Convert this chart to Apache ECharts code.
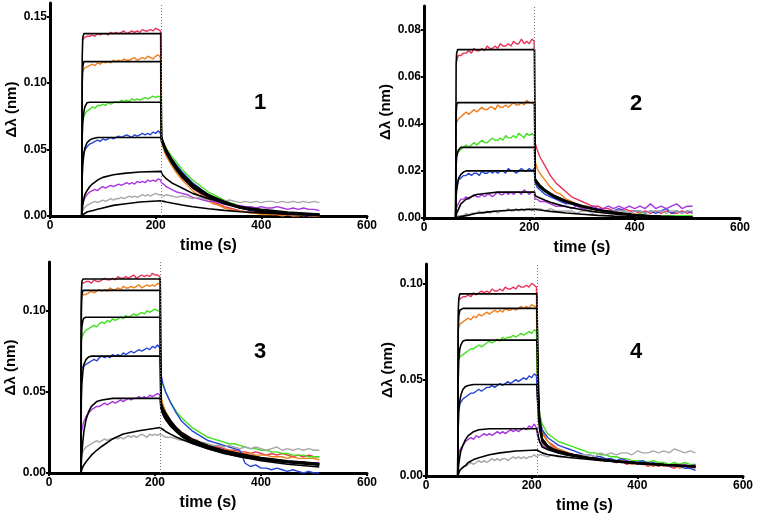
<!DOCTYPE html>
<html><head><meta charset="utf-8">
<script src="https://cdn.jsdelivr.net/npm/echarts@6/dist/echarts.min.js"></script>
<style>html,body{margin:0;padding:0;background:#fff}#c{width:757px;height:518px}</style>
</head><body><div id="c"></div>
<script>
// time samples (s)
const tAssoc=[61,65,70,75,80,85,90,95,100,105,110,115,120,125,130,135,140,145,150,155,160,165,170,175,180,185,190,195,200,205,209];
const tDiss=[211,215,220,230,240,250,260,270,280,290,300,310,320,330,340,350,360,370,380,390,400,410,420,430,440,450,460,470,480,490,500,510];
const tFit=[60,61,62,64,66,70,75,80,90,100,120,140,170,210,211,213,215,220,230,240,250,270,300,330,360,400,450,510];
const switchTime=210;
const panelLabels=['1','2','3','4'];
const xTicks=[0,200,400,600];
const yTicks1=[0,0.05,0.10,0.15], yTicks2=[0,0.02,0.04,0.06,0.08], yTicks3=[0,0.05,0.10], yTicks4=[0,0.05,0.10];
const yMax=[0.16,0.09,0.13,0.11];

// ---- panel 1 measured (assoc 31 + diss 32)
const p1Red=[.132,.134,.135,.135,.136,.135,.137,.136,.137,.137,.136,.138,.137,.138,.137,.138,.139,.137,.138,.139,.138,.139,.138,.140,.139,.139,.140,.139,.141,.140,.139,
.058,.052,.047,.041,.035,.030,.025,.021,.018,.015,.013,.010,.009,.007,.006,.005,.004,.003,.003,.002,.002,.002,.001,.001,.001,.001,.000,.001,.000,.001,.000,.001];
const p1Orange=[.108,.111,.112,.113,.114,.113,.115,.114,.116,.115,.116,.115,.117,.116,.117,.116,.118,.117,.117,.118,.119,.117,.118,.119,.118,.120,.119,.118,.120,.121,.119,
.056,.050,.045,.038,.032,.027,.023,.019,.016,.014,.011,.009,.008,.006,.005,.004,.004,.003,.002,.002,.001,.001,.001,.001,.000,.001,.000,.000,.001,.000,.000,.000];
const p1Green=[.071,.076,.079,.080,.082,.081,.083,.083,.084,.083,.085,.084,.085,.086,.085,.087,.086,.087,.086,.088,.087,.088,.087,.088,.089,.088,.089,.090,.089,.090,.089,
.060,.055,.051,.045,.040,.035,.031,.027,.024,.021,.018,.016,.014,.012,.010,.009,.007,.006,.005,.004,.004,.003,.003,.002,.002,.002,.001,.001,.001,.001,.001,.001];
const p1Blue=[.044,.049,.052,.054,.055,.056,.057,.056,.058,.057,.058,.059,.058,.059,.060,.059,.060,.061,.060,.059,.061,.060,.061,.062,.061,.062,.061,.063,.062,.064,.062,
.062,.054,.049,.043,.038,.033,.029,.025,.022,.019,.016,.014,.012,.010,.009,.007,.006,.005,.004,.004,.003,.003,.002,.002,.002,.001,.001,.001,.001,.000,.001,.000];
const p1Purple=[.008,.013,.016,.018,.019,.020,.019,.021,.022,.021,.022,.023,.022,.023,.024,.023,.024,.025,.024,.025,.024,.026,.025,.026,.025,.027,.026,.027,.026,.028,.027,
.025,.024,.022,.020,.018,.017,.016,.014,.013,.012,.011,.011,.010,.009,.009,.008,.008,.007,.007,.006,.007,.006,.006,.007,.006,.005,.006,.005,.006,.005,.005,.004];
const p1Gray=[.003,.006,.008,.009,.010,.011,.010,.011,.012,.011,.012,.013,.012,.013,.013,.014,.013,.014,.015,.014,.015,.014,.015,.016,.015,.016,.015,.016,.017,.016,.016,
.016,.015,.016,.015,.014,.015,.014,.013,.014,.013,.012,.013,.012,.011,.012,.011,.010,.011,.010,.011,.010,.011,.011,.010,.011,.010,.011,.010,.011,.010,.011,.010];
// panel 1 fits (28)
const p1Fit1=[0,.120,.134,.137,.137,.137,.137,.137,.137,.137,.137,.137,.137,.137,.060,.057,.055,.050,.043,.037,.032,.024,.016,.011,.007,.004,.002,.001];
const p1Fit2=[0,.100,.112,.116,.116,.116,.116,.116,.116,.116,.116,.116,.116,.116,.059,.056,.054,.049,.042,.036,.031,.023,.016,.010,.007,.004,.002,.001];
const p1Fit3=[0,.060,.070,.078,.082,.085,.0855,.0855,.0855,.0855,.0855,.0855,.0855,.0855,.058,.055,.053,.048,.041,.035,.030,.022,.015,.010,.006,.003,.002,.001];
const p1Fit4=[0,.030,.038,.046,.051,.055,.057,.058,.059,.059,.059,.059,.059,.059,.056,.054,.052,.047,.040,.034,.029,.021,.014,.009,.006,.003,.0015,.0005];
const p1Fit5=[0,.004,.008,.013,.016,.019,.022,.024,.027,.029,.031,.032,.033,.0335,.032,.031,.030,.028,.025,.023,.021,.017,.013,.010,.007,.005,.003,.0015];
const p1Fit6=[0,.0005,.001,.0015,.002,.003,.0035,.004,.005,.006,.008,.009,.0105,.0115,.0113,.0112,.011,.0105,.0097,.009,.0083,.007,.0055,.0042,.0032,.0022,.0013,.0007];

// ---- panel 2
const p2Red=[.066,.069,.069,.070,.070,.071,.070,.072,.071,.071,.072,.071,.073,.072,.072,.073,.072,.074,.073,.073,.074,.073,.075,.074,.074,.076,.074,.075,.074,.076,.075,
.032,.029,.026,.022,.018,.015,.013,.011,.009,.008,.007,.006,.005,.005,.004,.004,.003,.003,.004,.003,.003,.002,.003,.002,.003,.002,.003,.002,.002,.003,.002,.003];
const p2Orange=[.040,.042,.043,.044,.045,.044,.045,.046,.045,.046,.047,.046,.046,.047,.047,.046,.048,.047,.047,.048,.047,.048,.049,.048,.048,.049,.048,.050,.049,.049,.048,
.024,.021,.019,.016,.013,.011,.010,.008,.007,.006,.005,.005,.004,.003,.003,.003,.002,.002,.002,.001,.002,.001,.001,.001,.001,.001,.001,.001,.001,.001,.001,.001];
const p2Green=[.026,.028,.029,.030,.031,.030,.031,.032,.031,.032,.033,.032,.032,.033,.034,.033,.033,.034,.033,.035,.034,.034,.035,.034,.036,.035,.034,.036,.035,.036,.035,
.016,.014,.013,.011,.010,.009,.008,.007,.006,.005,.005,.004,.004,.003,.003,.003,.002,.002,.002,.002,.001,.002,.001,.001,.001,.001,.001,.001,.001,.001,.001,.001];
const p2Blue=[.011,.016,.017,.018,.018,.019,.018,.019,.019,.018,.020,.019,.019,.020,.019,.020,.019,.020,.020,.019,.021,.020,.020,.019,.020,.021,.020,.020,.021,.020,.021,
.015,.013,.012,.010,.009,.008,.007,.006,.006,.005,.005,.004,.004,.004,.003,.003,.003,.004,.003,.002,.003,.003,.002,.003,.002,.003,.004,.002,.003,.002,.003,.002];
const p2Purple=[.004,.006,.008,.008,.009,.008,.009,.010,.009,.009,.010,.009,.010,.010,.009,.010,.011,.010,.010,.011,.010,.011,.010,.011,.011,.010,.012,.011,.010,.011,.011,
.008,.008,.007,.007,.006,.005,.005,.005,.004,.005,.004,.004,.005,.004,.004,.005,.004,.005,.004,.005,.004,.005,.004,.006,.004,.005,.004,.005,.006,.004,.005,.005];
const p2Gray=[.000,.001,.001,.001,.002,.001,.002,.002,.002,.003,.002,.002,.003,.002,.003,.003,.002,.003,.003,.003,.004,.003,.003,.004,.003,.004,.003,.004,.004,.003,.004,
.004,.004,.004,.003,.004,.003,.003,.003,.003,.002,.003,.003,.002,.003,.003,.002,.003,.003,.003,.002,.003,.003,.002,.003,.003,.003,.002,.003,.003,.002,.003,.003];
const p2Fit1=[0,.065,.070,.0715,.0715,.0715,.0715,.0715,.0715,.0715,.0715,.0715,.0715,.0715,.017,.016,.0155,.014,.012,.0105,.0093,.0073,.0053,.0036,.0025,.0014,.0007,.0003];
const p2Fit2=[0,.044,.048,.049,.049,.049,.049,.049,.049,.049,.049,.049,.049,.049,.0165,.0158,.0152,.0138,.0118,.0103,.0091,.0071,.0051,.0035,.0024,.0013,.0007,.0003];
const p2Fit3=[0,.022,.026,.028,.029,.030,.030,.030,.030,.030,.030,.030,.030,.030,.016,.0154,.0148,.0135,.0115,.010,.0088,.0069,.0049,.0034,.0023,.0013,.0006,.0003];
const p2Fit4=[0,.009,.012,.015,.017,.0185,.0195,.020,.020,.020,.020,.020,.020,.020,.0155,.0149,.0143,.013,.0112,.0097,.0085,.0067,.0047,.0033,.0022,.0012,.0006,.0002];
const p2Fit5=[0,.001,.002,.003,.004,.006,.007,.008,.009,.010,.0105,.011,.011,.011,.0095,.0092,.009,.0085,.0075,.0067,.006,.0048,.0035,.0025,.0017,.001,.0005,.0002];
const p2Fit6=[0,0,.0002,.0003,.0004,.0006,.0008,.001,.0015,.002,.0025,.003,.0034,.0037,.0036,.0036,.0035,.0034,.0031,.0028,.0026,.0021,.0016,.0011,.0008,.0005,.0003,.0001];

// ---- panel 3
const p3Red=[.117,.117,.118,.118,.117,.119,.118,.118,.119,.120,.119,.119,.120,.119,.121,.120,.120,.121,.120,.121,.122,.120,.121,.122,.121,.122,.121,.123,.122,.122,.121,
.046,.041,.037,.032,.028,.025,.023,.021,.020,.018,.017,.016,.016,.015,.014,.014,.013,.013,.012,.013,.012,.011,.012,.011,.012,.011,.010,.011,.010,.011,.010,.010];
const p3Orange=[.108,.110,.110,.111,.112,.111,.112,.113,.112,.113,.112,.114,.113,.113,.114,.113,.115,.114,.114,.115,.114,.115,.116,.114,.115,.116,.115,.116,.115,.117,.116,
.048,.042,.038,.032,.028,.025,.023,.021,.019,.018,.017,.016,.015,.014,.014,.013,.013,.012,.012,.011,.011,.011,.010,.010,.010,.009,.010,.009,.009,.009,.009,.008];
const p3Green=[.083,.086,.088,.089,.090,.091,.090,.092,.093,.092,.094,.093,.095,.094,.095,.096,.095,.097,.096,.097,.098,.097,.098,.099,.098,.100,.099,.100,.101,.100,.100,
.058,.054,.050,.043,.038,.034,.031,.028,.026,.024,.022,.021,.020,.019,.018,.018,.017,.016,.015,.015,.014,.014,.013,.013,.012,.012,.011,.011,.011,.010,.010,.010];
const p3Blue=[.064,.066,.067,.068,.069,.070,.069,.071,.072,.071,.072,.071,.073,.072,.073,.072,.074,.073,.074,.075,.074,.075,.076,.075,.076,.077,.076,.078,.077,.079,.077,
.061,.055,.050,.043,.037,.032,.029,.026,.024,.022,.020,.019,.018,.017,.016,.015,.014,.006,.004,.005,.003,.003,.002,.003,.002,.001,.002,.001,.000,.001,.000,.000];
const p3Purple=[.025,.031,.035,.037,.039,.040,.041,.041,.042,.043,.042,.043,.044,.043,.044,.045,.044,.045,.046,.045,.046,.046,.047,.046,.047,.046,.048,.047,.048,.049,.048,
.040,.036,.033,.029,.026,.024,.022,.020,.018,.017,.016,.015,.014,.013,.012,.012,.011,.010,.010,.009,.009,.008,.008,.008,.007,.007,.007,.006,.007,.006,.006,.006];
const p3Gray=[.010,.014,.016,.017,.018,.019,.020,.019,.020,.021,.020,.021,.021,.022,.021,.022,.021,.022,.023,.022,.023,.022,.023,.024,.023,.022,.024,.023,.024,.023,.024,
.024,.023,.022,.022,.021,.020,.020,.019,.018,.019,.018,.017,.017,.016,.017,.016,.015,.016,.015,.016,.015,.014,.015,.016,.014,.015,.014,.015,.014,.015,.014,.014];
const p3Fit1=[0,.110,.118,.1195,.1195,.1195,.1195,.1195,.1195,.1195,.1195,.1195,.1195,.1195,.044,.042,.040,.037,.032,.028,.025,.021,.017,.014,.012,.0095,.0075,.006];
const p3Fit2=[0,.100,.110,.1125,.1125,.1125,.1125,.1125,.1125,.1125,.1125,.1125,.1125,.1125,.043,.041,.039,.036,.031,.027,.024,.020,.0165,.0135,.0115,.0092,.0072,.0057];
const p3Fit3=[0,.080,.090,.094,.0955,.096,.096,.096,.096,.096,.096,.096,.096,.096,.042,.040,.038,.035,.030,.0265,.0235,.0195,.016,.013,.011,.0088,.0069,.0054];
const p3Fit4=[0,.045,.055,.063,.067,.070,.0715,.072,.072,.072,.072,.072,.072,.072,.041,.039,.037,.034,.029,.026,.023,.019,.0155,.0125,.0105,.0085,.0066,.0051];
const p3Fit5=[0,.006,.012,.020,.026,.033,.038,.041,.044,.045,.046,.046,.046,.046,.040,.038,.036,.033,.0285,.0255,.0225,.0185,.015,.012,.010,.0082,.0063,.0048];
const p3Fit6=[0,.001,.002,.004,.005,.007,.009,.011,.014,.0165,.021,.024,.026,.028,.0278,.0273,.0268,.0256,.0238,.0222,.0208,.0182,.015,.0123,.010,.0076,.0054,.0037];

// ---- panel 4
const p4Red=[.091,.092,.093,.093,.094,.093,.095,.094,.095,.096,.095,.096,.095,.097,.096,.096,.097,.096,.098,.097,.097,.098,.097,.099,.098,.098,.099,.098,.100,.099,.098,
.045,.030,.023,.018,.016,.014,.013,.012,.011,.011,.010,.009,.010,.008,.009,.008,.007,.008,.006,.007,.006,.007,.005,.006,.005,.006,.005,.004,.006,.005,.004,.005];
const p4Orange=[.077,.079,.080,.081,.082,.081,.083,.082,.084,.083,.084,.085,.084,.085,.086,.085,.086,.085,.087,.086,.086,.087,.086,.087,.088,.087,.088,.087,.089,.088,.088,
.043,.029,.022,.018,.015,.014,.013,.012,.011,.010,.010,.009,.009,.008,.009,.008,.007,.008,.007,.006,.007,.006,.006,.005,.006,.005,.005,.006,.004,.005,.005,.004];
const p4Green=[.060,.062,.063,.064,.065,.066,.066,.067,.068,.067,.068,.069,.070,.069,.070,.071,.070,.072,.071,.072,.072,.073,.072,.073,.074,.073,.074,.075,.074,.076,.075,
.046,.032,.027,.022,.020,.018,.017,.016,.015,.014,.013,.012,.012,.011,.011,.010,.010,.009,.009,.008,.008,.008,.007,.008,.007,.007,.006,.007,.006,.007,.006,.006];
const p4Blue=[.035,.038,.040,.041,.042,.043,.043,.044,.045,.044,.045,.046,.046,.047,.046,.047,.048,.047,.048,.049,.048,.049,.050,.049,.050,.051,.050,.052,.051,.053,.052,
.040,.030,.024,.020,.018,.016,.015,.014,.013,.012,.011,.011,.010,.010,.009,.009,.008,.009,.008,.007,.007,.008,.006,.007,.006,.006,.005,.006,.005,.004,.004,.003];
const p4Purple=[.010,.014,.016,.018,.019,.020,.019,.021,.020,.021,.022,.021,.022,.021,.022,.023,.022,.023,.022,.023,.024,.023,.024,.023,.024,.025,.024,.026,.025,.027,.025,
.021,.018,.016,.014,.013,.012,.012,.011,.011,.010,.010,.009,.009,.009,.008,.008,.008,.007,.008,.007,.007,.006,.007,.006,.006,.006,.005,.006,.005,.006,.005,.006];
const p4Gray=[.001,.003,.005,.005,.006,.007,.006,.007,.008,.007,.008,.007,.008,.009,.008,.009,.008,.009,.009,.008,.009,.010,.009,.010,.009,.010,.009,.010,.010,.011,.010,
.010,.011,.011,.010,.011,.010,.010,.011,.010,.011,.011,.011,.010,.012,.011,.012,.011,.012,.012,.011,.013,.012,.012,.013,.012,.013,.012,.014,.013,.012,.013,.012];
const p4Fit1=[0,.085,.092,.0945,.0945,.0945,.0945,.0945,.0945,.0945,.0945,.0945,.0945,.0945,.075,.045,.030,.0195,.0158,.0142,.0132,.0117,.0100,.0088,.0079,.0070,.0060,.0050];
const p4Fit2=[0,.075,.083,.086,.087,.087,.087,.087,.087,.087,.087,.087,.087,.087,.069,.042,.029,.019,.0155,.014,.013,.0115,.0099,.0087,.0078,.0069,.0059,.0049];
const p4Fit3=[0,.050,.060,.066,.068,.070,.0705,.0705,.0705,.0705,.0705,.0705,.0705,.0705,.057,.037,.027,.0185,.0152,.0138,.0128,.0113,.0097,.0085,.0076,.0067,.0058,.0048];
const p4Fit4=[0,.025,.033,.039,.042,.045,.0465,.047,.0475,.0475,.0475,.0475,.0475,.0475,.040,.030,.024,.0175,.0148,.0135,.0125,.011,.0095,.0083,.0074,.0065,.0056,.0047];
const p4Fit5=[0,.003,.006,.010,.013,.016,.019,.021,.023,.024,.0245,.0245,.0245,.0245,.023,.020,.018,.015,.0138,.0128,.012,.0107,.0093,.0082,.0073,.0064,.0056,.0048];
const p4Fit6=[0,.0005,.001,.003,.0035,.0045,.0055,.007,.0085,.0095,.011,.012,.013,.0135,.0134,.013,.0127,.012,.0112,.0107,.0103,.0096,.0088,.0081,.0075,.0068,.006,.0051];

const colors=['#e83355','#f0801e','#44e020','#2544d6','#a835e0','#a8a8a8'];
const measured=[[p1Red,p1Orange,p1Green,p1Blue,p1Purple,p1Gray],[p2Red,p2Orange,p2Green,p2Blue,p2Purple,p2Gray],
[p3Red,p3Orange,p3Green,p3Blue,p3Purple,p3Gray],[p4Red,p4Orange,p4Green,p4Blue,p4Purple,p4Gray]];
const fits=[[p1Fit1,p1Fit2,p1Fit3,p1Fit4,p1Fit5,p1Fit6],[p2Fit1,p2Fit2,p2Fit3,p2Fit4,p2Fit5,p2Fit6],
[p3Fit1,p3Fit2,p3Fit3,p3Fit4,p3Fit5,p3Fit6],[p4Fit1,p4Fit2,p4Fit3,p4Fit4,p4Fit5,p4Fit6]];
const yTicks=[yTicks1,yTicks2,yTicks3,yTicks4];

const FONT="'Liberation Sans Narrow','Arial Narrow','Liberation Sans',Arial,sans-serif";
const grids=[{left:50,top:3,width:317,height:213},{left:424,top:6,width:316,height:212},
{left:49,top:262,width:318,height:211},{left:426,top:264,width:317,height:212}];
const tMeas=tAssoc.concat(tDiss);
const xAxes=[],yAxes=[],series=[];
grids.forEach((g,i)=>{
  xAxes.push({type:'value',gridIndex:i,min:0,max:600,interval:200,
    axisLine:{show:true,onZero:false,lineStyle:{color:'#000',width:3}},
    axisTick:{show:true,length:3,lineStyle:{color:'#000',width:2},customValues:xTicks},
    axisLabel:{color:'#000',fontWeight:'bold',fontSize:12,fontFamily:FONT,margin:4,customValues:xTicks},
    splitLine:{show:false},
    name:'time (s)',nameLocation:'middle',nameGap:22,
    nameTextStyle:{color:'#000',fontWeight:'bold',fontSize:16,fontFamily:FONT}});
  yAxes.push({type:'value',gridIndex:i,min:0,max:yMax[i],
    axisLine:{show:true,onZero:false,lineStyle:{color:'#000',width:3}},
    axisTick:{show:true,length:3,lineStyle:{color:'#000',width:2},customValues:yTicks[i]},
    axisLabel:{color:'#000',fontWeight:'bold',fontSize:12,fontFamily:FONT,margin:3,customValues:yTicks[i],formatter:v=>v.toFixed(2)},
    splitLine:{show:false},
    name:'Δλ (nm)',nameLocation:'middle',nameGap:31,nameRotate:90,
    nameTextStyle:{color:'#000',fontWeight:'bold',fontSize:15,fontFamily:FONT}});
  measured[i].forEach((arr,k)=>{
    const s={type:'line',xAxisIndex:i,yAxisIndex:i,showSymbol:false,symbol:'none',silent:true,
      lineStyle:{color:colors[k],width:1.4},data:tMeas.map((t,j)=>[t,arr[j]])};
    if(k===0){s.markLine={silent:true,symbol:['none','none'],label:{show:false},
      lineStyle:{type:[1,2],color:'#777',width:1},data:[{xAxis:switchTime}]};}
    series.push(s);
  });
  fits[i].forEach(arr=>{
    series.push({type:'line',xAxisIndex:i,yAxisIndex:i,showSymbol:false,symbol:'none',silent:true,
      lineStyle:{color:'#000',width:1.6},data:tFit.map((t,j)=>[t,arr[j]])});
  });
});
const labelPos=[[260,103],[636,104],[260,352],[636,352]];
const chart=echarts.init(document.getElementById('c'),null,{renderer:'canvas'});
chart.setOption({animation:false,backgroundColor:'#fff',grid:grids,xAxis:xAxes,yAxis:yAxes,series:series,
  graphic:panelLabels.map((s,i)=>({type:'text',x:labelPos[i][0],y:labelPos[i][1],
    style:{text:s,fill:'#000',font:"bold 22px "+FONT,textAlign:'center',textVerticalAlign:'middle'}}))});
</script></body></html>
